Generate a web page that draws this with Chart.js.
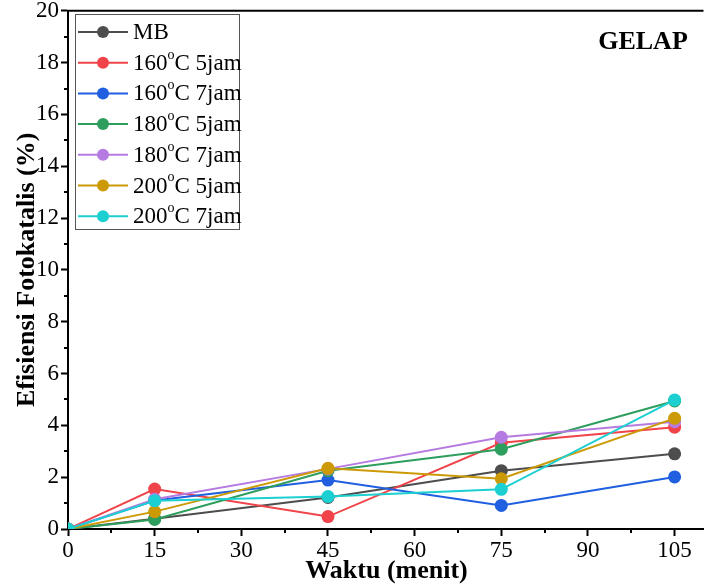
<!DOCTYPE html>
<html lang="id">
<head>
<meta charset="UTF-8">
<title>Efisiensi Fotokatalis - Gelap</title>
<script src="https://cdn.jsdelivr.net/npm/chart.js"></script>
<style>
  html, body { margin: 0; padding: 0; background: #fff; }
  #wrap { position: relative; width: 704px; height: 586px; overflow: hidden; }
  #chart { position: absolute; left: 0; top: -5px; }
</style>
</head>
<body>
<div id="wrap"><canvas id="chart" width="710" height="591"></canvas></div>
<script>
// data
const waktu = [0, 15, 45, 75, 105];
const labels = ['MB', '160°C 5jam', '160°C 7jam', '180°C 5jam', '180°C 7jam', '200°C 5jam', '200°C 7jam'];
const mb     = [0, 0.40, 1.22, 2.25, 2.90];
const t160j5 = [0, 1.54, 0.48, 3.33, 3.93];
const t160j7 = [0, 1.10, 1.89, 0.91, 2.01];
const t180j5 = [0, 0.37, 2.25, 3.08, 4.94];
const t180j7 = [0, 1.15, 2.32, 3.54, 4.14];
const t200j5 = [0, 0.67, 2.34, 1.94, 4.27];
const t200j7 = [0, 1.09, 1.25, 1.53, 4.98];
const series = [mb, t160j5, t160j7, t180j5, t180j7, t200j5, t200j7];
const colors = ['#4d4d4d', '#f0444a', '#1f5fe0', '#2e9e5e', '#b57be0', '#cc9a06', '#1ccfd0'];
const xTicks = [0, 15, 30, 45, 60, 75, 90, 105];

const serif = "'Liberation Serif', 'Times New Roman', serif";
const SHIFT = 5; // canvas sits this many px above the page top

// draws "160°C 5jam" with a raised small o
function drawSup(ctx, text, x, y, size) {
  const parts = text.split('°');
  ctx.font = size + 'px ' + serif;
  ctx.fillText(parts[0], x, y);
  if (parts.length < 2) return;
  x += ctx.measureText(parts[0]).width;
  ctx.font = Math.round(size * 0.6) + 'px ' + serif;
  ctx.fillText('o', x, y - size * 0.38);
  x += ctx.measureText('o').width;
  ctx.font = size + 'px ' + serif;
  ctx.fillText(parts[1], x, y);
}

const decor = {
  id: 'decor',
  afterDraw(chart) {
    const { ctx, chartArea: a, scales: { x, y } } = chart;
    ctx.save();
    ctx.strokeStyle = '#000';
    ctx.lineWidth = 2;
    // top frame line
    ctx.beginPath();
    ctx.moveTo(a.left - 1, a.top);
    ctx.lineTo(a.right, a.top);
    ctx.stroke();
    // minor ticks
    ctx.beginPath();
    for (let v = 1; v < 20; v += 2) {
      const py = Math.round(y.getPixelForValue(v));
      ctx.moveTo(a.left, py); ctx.lineTo(a.left - 4, py);
    }
    for (let v = 7.5; v < 110; v += 15) {
      const px = Math.round(x.getPixelForValue(v));
      ctx.moveTo(px, a.bottom); ctx.lineTo(px, a.bottom + 4);
    }
    ctx.stroke();

    // from here on, page coordinates
    ctx.translate(0, SHIFT);
    ctx.fillStyle = '#000';
    ctx.font = 'bold 26px ' + serif;
    ctx.textAlign = 'center';
    ctx.textBaseline = 'middle';
    ctx.fillText('Waktu (menit)', (a.left + 705) / 2, 571);
    ctx.save();
    ctx.translate(27, (a.top + a.bottom) / 2 - SHIFT);
    ctx.rotate(-Math.PI / 2);
    ctx.fillText('Efisiensi Fotokatalis (%)', 0, 0);
    ctx.restore();

    ctx.fillText('GELAP', 643, 42);

    // legend
    ctx.strokeStyle = '#555';
    ctx.lineWidth = 1;
    ctx.strokeRect(75.5, 14.5, 164, 215);
    ctx.textAlign = 'left';
    labels.forEach((lab, i) => {
      const ly = 32 + i * 30.7;
      ctx.strokeStyle = colors[i];
      ctx.lineWidth = 2;
      ctx.beginPath();
      ctx.moveTo(78, ly); ctx.lineTo(128, ly);
      ctx.stroke();
      ctx.fillStyle = colors[i];
      ctx.beginPath();
      ctx.arc(103, ly, 6, 0, Math.PI * 2);
      ctx.fill();
      ctx.fillStyle = '#000';
      drawSup(ctx, lab, 133, ly + 1, 23);
    });
    ctx.restore();
  }
};

new Chart(document.getElementById('chart'), {
  type: 'line',
  data: {
    datasets: series.map((s, i) => ({
      label: labels[i],
      data: s.map((v, k) => ({ x: waktu[k], y: v })),
      borderColor: colors[i],
      backgroundColor: colors[i],
      borderWidth: 2,
      pointRadius: 6.5,
      pointBorderWidth: 0,
      tension: 0,
      order: series.length - i
    }))
  },
  options: {
    responsive: false,
    animation: false,
    layout: { padding: 0 },
    plugins: { legend: { display: false }, tooltip: { enabled: false } },
    scales: {
      x: {
        type: 'linear',
        min: 0, max: 110,
        afterBuildTicks: s => { s.ticks = xTicks.map(v => ({ value: v })); },
        afterFit: s => { s.height = 57; },
        ticks: { color: '#000', font: { family: serif, size: 23 }, padding: 1, maxRotation: 0 },
        grid: { display: true, drawOnChartArea: false, drawTicks: true, tickLength: 7, tickColor: '#000', tickWidth: 2 },
        border: { display: true, color: '#000', width: 2 }
      },
      y: {
        min: 0, max: 20,
        ticks: { stepSize: 2, color: '#000', font: { family: serif, size: 23 }, padding: 2 },
        afterFit: s => { s.width = 68; },
        grid: { display: true, drawOnChartArea: false, drawTicks: true, tickLength: 7, tickColor: '#000', tickWidth: 2 },
        border: { display: true, color: '#000', width: 2 }
      }
    }
  },
  plugins: [decor]
});
</script>
</body>
</html>
